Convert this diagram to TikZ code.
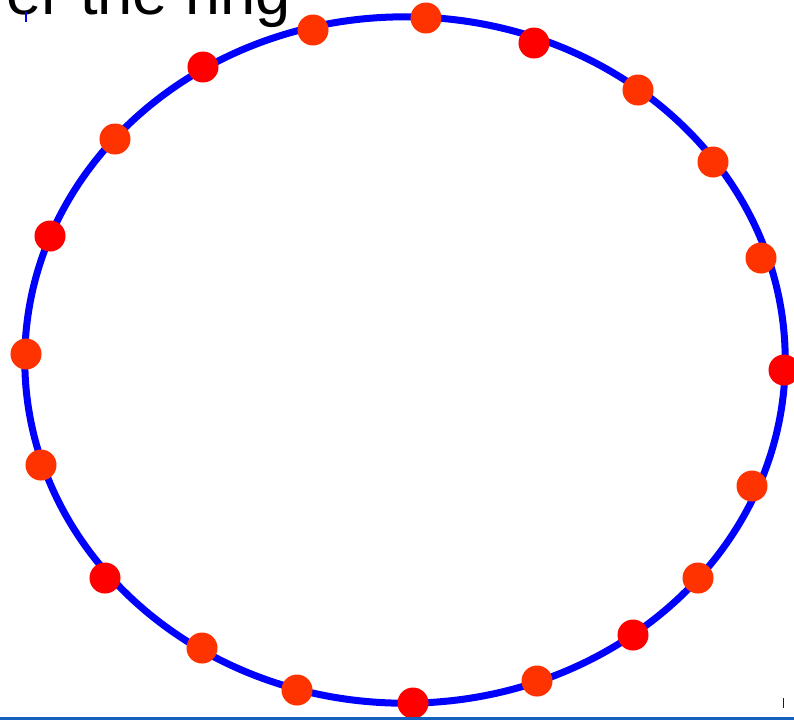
\documentclass[tikz,border=0pt]{standalone}
\usepackage{fontspec}
\setmainfont{Liberation Sans}
\definecolor{ringblue}{RGB}{0,0,255}
\definecolor{beadred}{RGB}{255,0,0}
\definecolor{beadorange}{RGB}{255,51,0}
\definecolor{barblue}{RGB}{21,96,189}

\begin{document}
\begin{tikzpicture}[x=0.01cm,y=-0.01cm,
    bead/.style={circle,inner sep=0pt,minimum size=0.31cm},
    tick/.style={ringblue,line width=0.012cm}]
    \useasboundingbox (0,0) rectangle (794,720);
    \clip (0,0) rectangle (794,720);
    % heading, cut by the top edge
    \node[anchor=base west,inner sep=0pt,font=\fontsize{18}{20}\selectfont] (title) at (5.5,14) {er the ring};
    % corner marks
    \draw[tick] (26,12) -- (26,22);
    \draw[tick] (783.5,698) -- (783.5,708);
    % the ring
    \draw[ringblue,line width=0.07cm] (405,360) ellipse [x radius=3.8cm, y radius=3.43cm];
    % beads
    \foreach \x/\y/\c [count=\i] in {426/18/beadorange, 534/43/beadred, 638/90/beadorange,
        713/162/beadorange, 761/258/beadorange, 784/370/beadred, 752/486/beadorange,
        698/578/beadorange, 633/635/beadred, 537/681/beadorange, 413/703/beadred,
        297/690/beadorange, 202/648/beadorange, 105/578/beadred, 41/465/beadorange,
        26/354/beadorange, 50/236/beadred, 115/139/beadorange, 203/67/beadred,
        313/30/beadorange}
      \node[bead,fill=\c] (b\i) at (\x,\y) {};
    % bottom bar
    \fill[barblue] (0,717) rectangle (794,720);
\end{tikzpicture}
\end{document}
